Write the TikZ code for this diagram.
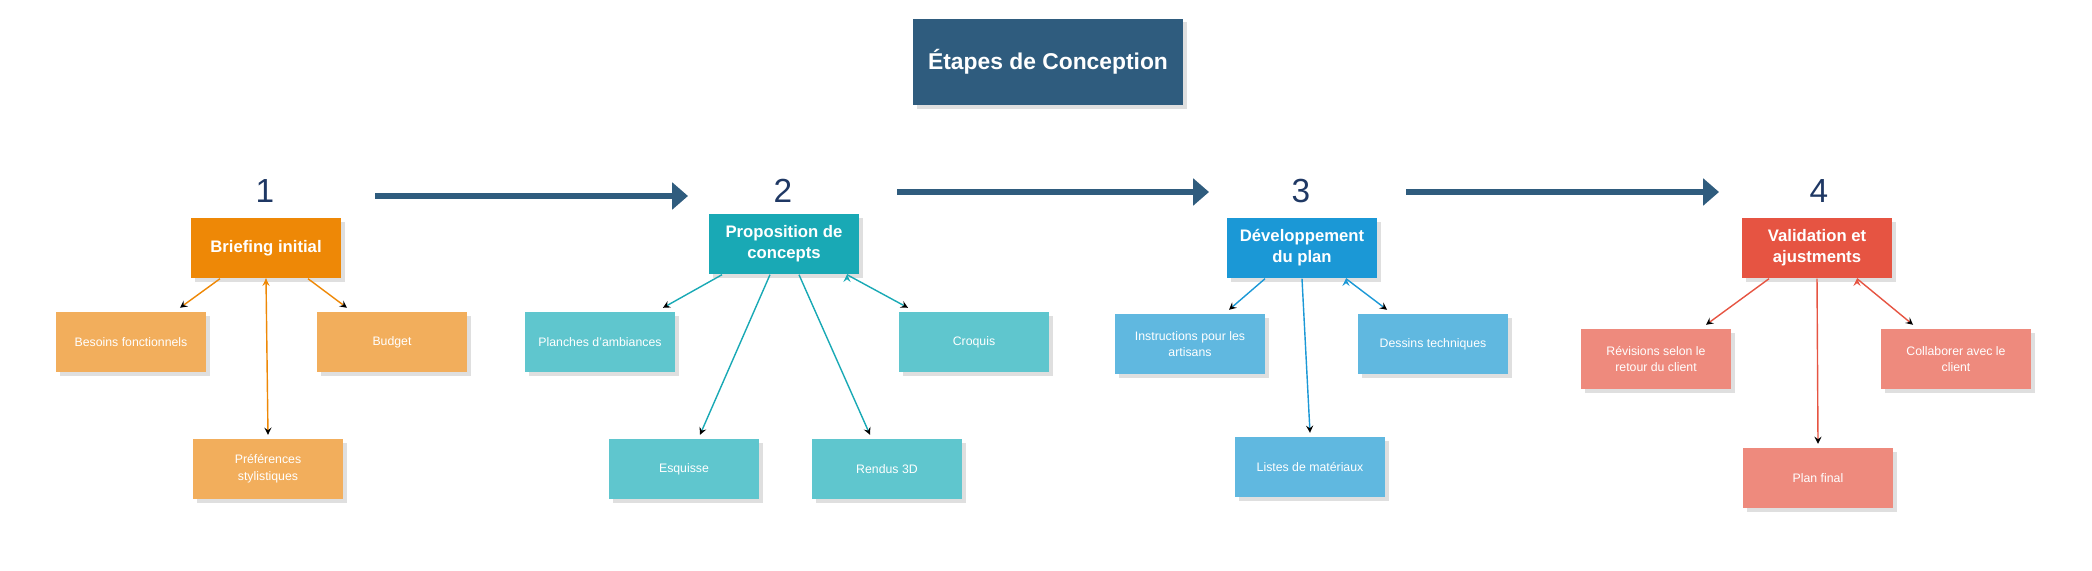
\documentclass[tikz,border=0pt]{standalone}
\usepackage{fontspec}
\setmainfont{Liberation Sans}
\usetikzlibrary{shadows, arrows.meta}

\definecolor{titleblue}{HTML}{2F5C7E}
\definecolor{navy}{HTML}{1F3864}
\definecolor{orangeA}{HTML}{EE8806}
\definecolor{orangeB}{HTML}{F2AE5C}
\definecolor{tealA}{HTML}{19A9B5}
\definecolor{tealB}{HTML}{5FC6CE}
\definecolor{blueA}{HTML}{1B98D6}
\definecolor{blueB}{HTML}{60B8E0}
\definecolor{redA}{HTML}{E65442}
\definecolor{redB}{HTML}{EE8A7D}

\begin{document}
\begin{tikzpicture}[x=0.02cm,y=-0.02cm,>=stealth,thick,
  box/.style={rectangle,minimum width=3cm,minimum height=1.2cm,align=center,
    text=white,drop shadow={opacity=0.25,shadow xshift=2pt,shadow yshift=-2pt}},
  main node/.style={box,font=\fontsize{9.5}{12}\selectfont\bfseries},
  sub node/.style={box,font=\fontsize{7}{9.5}\selectfont},
  step num/.style={text=navy,font=\fontsize{19}{22}\selectfont},
  flow/.style={->,line width=3.2pt,draw=titleblue,>={Triangle[length=9pt,width=15pt]}}]
  \useasboundingbox (0,0) rectangle (2092,571);
  \node[box,fill=titleblue,minimum width=5.4cm,minimum height=1.74cm,
    font=\fontsize{13}{15}\selectfont\bfseries] (title) at (1048,62) {Étapes de Conception};
  % step numbers and flow
  \node[step num] (n1) at (265,191) {1};
  \node[step num] (n2) at (783,191) {2};
  \node[step num] (n3) at (1301,191) {3};
  \node[step num] (n4) at (1819,191) {4};
  \coordinate (a1) at (375,196); \coordinate (b1) at (688,196);
  \coordinate (a2) at (897,192); \coordinate (b2) at (1209,192);
  \coordinate (a3) at (1406,192); \coordinate (b3) at (1719,192);
  \draw[flow] (a1) -- (b1);
  \draw[flow] (a2) -- (b2);
  \draw[flow] (a3) -- (b3);
  % step 1
  \node[main node,fill=orangeA] (brief) at (266,248) {Briefing initial};
  \node[sub node,fill=orangeB] (besoins) at (131,342) {Besoins fonctionnels};
  \node[sub node,fill=orangeB] (budget) at (392,342) {Budget};
  \node[sub node,fill=orangeB] (pref) at (268,469) {Préférences\\stylistiques};
  \path[->,draw=orangeA]
     ([xshift=-0.92cm]brief.south) edge ([xshift=0.98cm,yshift=2pt]besoins.north)
     ([xshift=0.84cm]brief.south) edge ([xshift=-0.9cm,yshift=2pt]budget.north)
     (brief.south) edge ([yshift=2pt]pref.north);
  % step 2
  \node[main node,fill=tealA] (prop) at (784,244) {Proposition de\\concepts};
  \node[sub node,fill=tealB] (planches) at (600,342) {Planches d'ambiances};
  \node[sub node,fill=tealB] (croquis) at (974,342) {Croquis};
  \node[sub node,fill=tealB] (esquisse) at (684,469) {Esquisse};
  \node[sub node,fill=tealB] (rendus) at (887,469) {Rendus 3D};
  \path[->,draw=tealA]
     ([xshift=-1.24cm]prop.south) edge ([xshift=1.26cm,yshift=2pt]planches.north)
     ([xshift=-0.28cm]prop.south) edge ([xshift=0.32cm,yshift=2pt]esquisse.north)
     ([xshift=0.3cm]prop.south) edge ([xshift=-0.34cm,yshift=2pt]rendus.north)
     ([xshift=1.26cm]prop.south) edge ([xshift=-1.32cm,yshift=2pt]croquis.north);
  % step 3
  \node[main node,fill=blueA] (dev) at (1302,248) {Développement\\du plan};
  \node[sub node,fill=blueB] (instr) at (1190,344) {Instructions pour les\\artisans};
  \node[sub node,fill=blueB] (dessins) at (1433,344) {Dessins techniques};
  \node[sub node,fill=blueB] (listes) at (1310,467) {Listes de matériaux};
  \path[->,draw=blueA]
     ([xshift=-0.74cm]dev.south) edge ([xshift=0.78cm,yshift=2pt]instr.north)
     (dev.south) edge ([yshift=2pt]listes.north)
     ([xshift=0.88cm]dev.south) edge ([xshift=-0.92cm,yshift=2pt]dessins.north);
  % step 4
  \node[main node,fill=redA] (valid) at (1817,248) {Validation et\\ajustments};
  \node[sub node,fill=redB] (revis) at (1656,359) {Révisions selon le\\retour du client};
  \node[sub node,fill=redB] (collab) at (1956,359) {Collaborer avec le\\client};
  \node[sub node,fill=redB] (final) at (1818,478) {Plan final};
  \path[->,draw=redA]
     ([xshift=-0.96cm]valid.south) edge ([xshift=1cm,yshift=2pt]revis.north)
     (valid.south) edge ([yshift=2pt]final.north)
     ([xshift=0.8cm]valid.south) edge ([xshift=-0.86cm,yshift=2pt]collab.north);
\end{tikzpicture}
\end{document}
